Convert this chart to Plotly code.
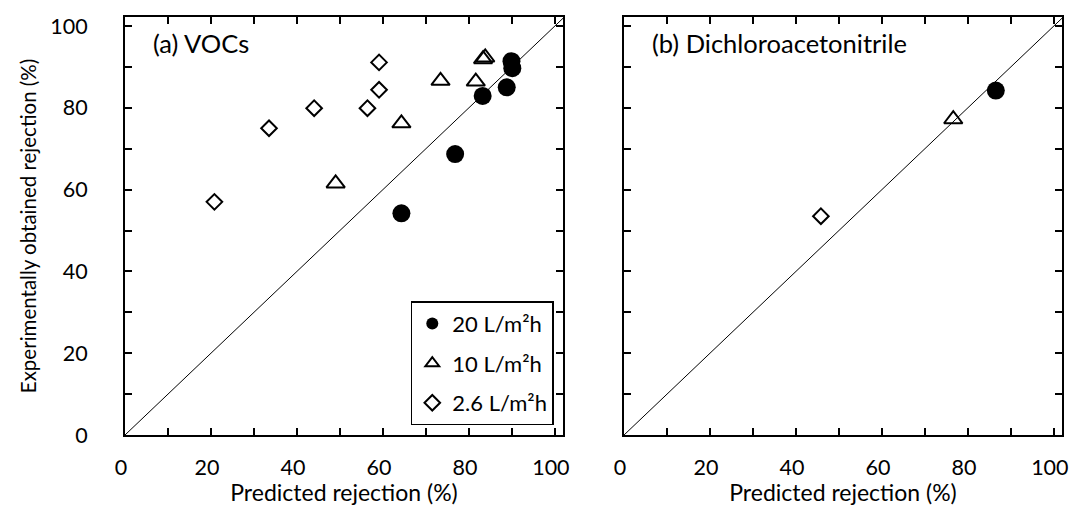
import plotly.graph_objects as go

# ---- data: predicted vs. experimentally obtained rejection (%) ----
# (a) VOCs
voc_20_pred = [64.3, 76.8, 83.2, 88.8, 89.9, 90.1]
voc_20_exp = [54.2, 68.7, 82.9, 85.0, 91.4, 89.7]
voc_10_pred = [49.0, 64.3, 73.4, 81.6, 83.3, 83.8]
voc_10_exp = [61.5, 76.2, 86.6, 86.4, 91.9, 92.3]
voc_26_pred = [20.8, 33.5, 44.0, 56.4, 59.1, 59.1]
voc_26_exp = [57.0, 75.0, 79.9, 79.9, 84.4, 91.1]
# (b) Dichloroacetonitrile
dcan_20_pred = [86.5]
dcan_20_exp = [84.2]
dcan_10_pred = [76.6]
dcan_10_exp = [77.2]
dcan_26_pred = [45.8]
dcan_26_exp = [53.5]

series_names = ["20 L/m\u00b2h", "10 L/m\u00b2h", "2.6 L/m\u00b2h"]
panel_titles = ["(a) VOCs", "(b) Dichloroacetonitrile"]
tick_vals = list(range(0, 101, 10))
tick_text = [str(v) if v % 20 == 0 else "" for v in tick_vals]
parity = [0, 105]

FONT = "Lato"

styles = [
    dict(symbol="circle", size=18, color="black", line=dict(width=0, color="black")),
    dict(symbol="triangle-up-open", size=16, color="black", line=dict(width=2, color="black")),
    dict(symbol="diamond-open", size=12, color="black", line=dict(width=2, color="black")),
]

fig = go.Figure()

panels = [
    ("x", "y", [(voc_20_pred, voc_20_exp), (voc_10_pred, voc_10_exp), (voc_26_pred, voc_26_exp)], True),
    ("x2", "y2", [(dcan_20_pred, dcan_20_exp), (dcan_10_pred, dcan_10_exp), (dcan_26_pred, dcan_26_exp)], False),
]

for xa, ya, sets, show in panels:
    fig.add_trace(go.Scatter(x=parity, y=parity, mode="lines", xaxis=xa, yaxis=ya,
                             line=dict(color="black", width=1), showlegend=False,
                             hoverinfo="skip"))
    for i, (px, py) in enumerate(sets):
        fig.add_trace(go.Scatter(x=px, y=py, mode="markers", xaxis=xa, yaxis=ya,
                                 marker=styles[i], name=series_names[i],
                                 legendgroup=f"g{i}", showlegend=show,
                                 cliponaxis=False))

axis_common = dict(
    showline=True, linecolor="black", linewidth=2, mirror="allticks",
    ticks="inside", ticklen=7, tickwidth=1.5, tickcolor="black",
    tickvals=tick_vals, ticktext=tick_text, showgrid=False, zeroline=False,
    automargin=False,
    tickfont=dict(family=FONT, size=21.5, color="black"),
)

x_range = [0, 101.9]
y_range = [0, 102.2]

x_title = dict(text="Predicted rejection (%)", standoff=0,
               font=dict(family=FONT, size=23))

fig.update_layout(
    width=1073, height=506,
    margin=dict(l=125, r=11, t=17, b=71, autoexpand=False),
    paper_bgcolor="white", plot_bgcolor="white",
    font=dict(family=FONT, color="black"),
    xaxis=dict(axis_common, domain=[0, 0.4675], range=x_range, anchor="y",
               ticklabelstandoff=12, ticklabelshift=-4, title=x_title),
    xaxis2=dict(axis_common, domain=[0.5326, 1], range=x_range, anchor="y2",
                ticklabelstandoff=12, ticklabelshift=-4, title=x_title),
    yaxis=dict(axis_common, domain=[0, 1], range=y_range, anchor="x",
               ticklabelstandoff=31,
               title=dict(text="Experimentally obtained rejection (%)", standoff=8,
                          font=dict(family=FONT, size=20.5))),
    yaxis2=dict(axis_common, domain=[0, 1], range=y_range, anchor="x2",
                showticklabels=False),
    legend=dict(x=0.305, y=0.32, xanchor="left", yanchor="top",
                bordercolor="black", borderwidth=1.5, bgcolor="white",
                font=dict(family=FONT, size=22, color="black"),
                tracegroupgap=8, itemsizing="constant", itemwidth=30),
    showlegend=True,
)

for k, (xr, yr) in enumerate([("x domain", "y domain"), ("x2 domain", "y2 domain")]):
    fig.add_annotation(text=panel_titles[k], xref=xr, yref=yr, x=0.06, y=0.938,
                       xanchor="left", yanchor="middle", showarrow=False,
                       font=dict(family=FONT, size=25.5, color="black"))

fig.write_html("out.html")
